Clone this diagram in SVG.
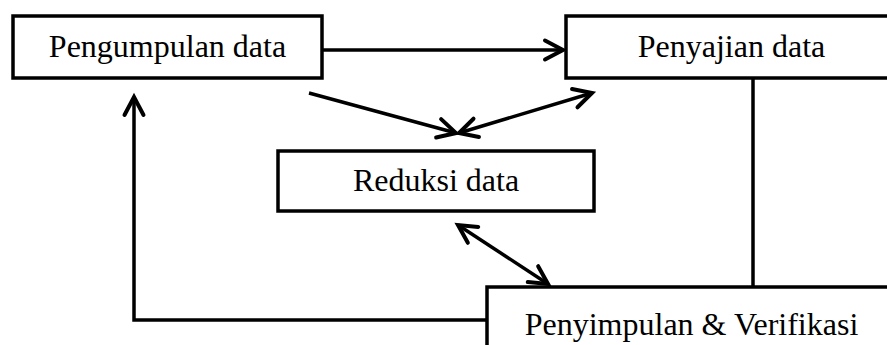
<svg xmlns="http://www.w3.org/2000/svg" width="887" height="345" viewBox="0 0 887 345">
  <defs>
    <style>
      .box { fill: #ffffff; stroke: #000000; stroke-width: 3.5; }
      .label { font-family: "Liberation Serif", "Times New Roman", serif; font-size: 32px; fill: #000000; text-anchor: middle; }
      .link { fill: none; stroke: #000000; stroke-width: 3.5; }
    </style>
    <!-- open V arrowhead -->
    <marker id="head" markerUnits="userSpaceOnUse" markerWidth="24" markerHeight="24" viewBox="0 0 24 24" refX="20" refY="11" orient="auto-start-reverse" overflow="visible">
      <path d="M2,1.5 L20,11 L2,20.5" fill="none" stroke="#000000" stroke-width="4" stroke-linecap="round" stroke-linejoin="miter"/>
    </marker>
  </defs>
  <rect width="887" height="345" fill="#ffffff"/>

  <g id="connectors">
    <line class="link" x1="322" y1="50" x2="563" y2="50" marker-end="url(#head)"/>
    <line class="link" x1="309" y1="93" x2="456" y2="133" marker-end="url(#head)"/>
    <line class="link" x1="459" y1="133" x2="592" y2="93" marker-start="url(#head)" marker-end="url(#head)"/>
    <line class="link" x1="458" y1="225" x2="548" y2="284" marker-start="url(#head)" marker-end="url(#head)"/>
    <line class="link" x1="753" y1="78" x2="753" y2="287"/>
    <polyline class="link" points="487,320 134,320 134,97" marker-end="url(#head)"/>
  </g>

  <g id="pengumpulan">
    <rect class="box" x="13" y="16" width="309" height="62"/>
    <text class="label" x="167.5" y="57">Pengumpulan data</text>
  </g>

  <g id="penyajian">
    <rect class="box" x="566" y="16" width="330" height="62"/>
    <text class="label" x="731.5" y="57">Penyajian data</text>
  </g>

  <g id="reduksi">
    <rect class="box" x="278" y="151" width="316" height="60"/>
    <text class="label" x="436" y="191">Reduksi data</text>
  </g>

  <g id="penyimpulan">
    <rect class="box" x="487" y="287" width="410" height="70"/>
    <text class="label" x="691.5" y="335">Penyimpulan &amp; Verifikasi</text>
  </g>
</svg>
